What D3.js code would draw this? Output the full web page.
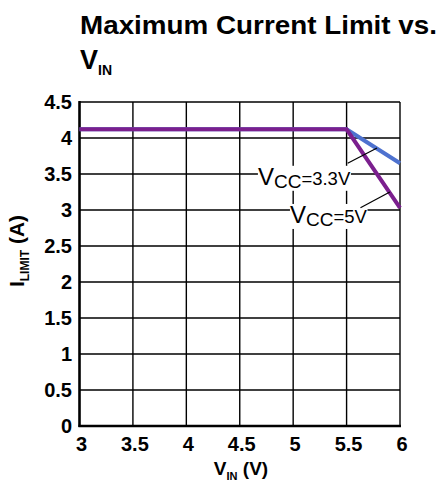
<!DOCTYPE html>
<html>
<head>
  <script src="https://d3js.org/d3.v7.min.js"></script>
  <style>
    body { margin: 0; background: #fff; }
    text { font-family: "Liberation Sans", Arial, sans-serif; }
    .grid line { stroke: #000; stroke-width: 1.4px; }
    .tick-label { font-size: 20px; font-weight: bold; }
  </style>
</head>
<body>
  <svg id="chart" width="441" height="483"></svg>
  <script>
    // data
    const vin = [3, 5.5, 6];
    const ilimVcc33 = [4.12, 4.12, 3.65];
    const ilimVcc5 = [4.12, 4.12, 3.03];
    const xTicks = [3, 3.5, 4, 4.5, 5, 5.5, 6];
    const yTicks = [0, 0.5, 1, 1.5, 2, 2.5, 3, 3.5, 4, 4.5];

    const svg = d3.select("svg#chart");
    const x = d3.scaleLinear().domain([3, 6]).range([79.5, 400]);
    const y = d3.scaleLinear().domain([0, 4.5]).range([426, 102]);
    const fmt = d => d3.format("~f")(d);

    // title
    svg.append("text")
      .attr("x", 80).attr("y", 34)
      .attr("textLength", 357).attr("lengthAdjust", "spacingAndGlyphs")
      .style("font-size", "26px").style("font-weight", "bold")
      .text("Maximum Current Limit vs.");
    const t2 = svg.append("text")
      .attr("x", 80).attr("y", 69)
      .style("font-size", "27px").style("font-weight", "bold");
    t2.append("tspan").text("V");
    t2.append("tspan").attr("dy", 6).style("font-size", "14px").text("IN");

    // gridlines
    const grid = svg.append("g").attr("class", "grid");
    grid.selectAll("line.v").data(xTicks).join("line").attr("class", "v")
      .attr("x1", d => x(d)).attr("x2", d => x(d))
      .attr("y1", y(0)).attr("y2", y(4.5));
    grid.selectAll("line.h").data(yTicks).join("line").attr("class", "h")
      .attr("x1", x(3)).attr("x2", x(6))
      .attr("y1", d => y(d)).attr("y2", d => y(d));

    // main axes (thicker)
    svg.append("line").attr("x1", x(3)).attr("x2", x(3)).attr("y1", y(0) + 1).attr("y2", y(4.5) - 1)
      .style("stroke", "#000").style("stroke-width", 2.5);
    svg.append("line").attr("x1", x(3) - 1).attr("x2", x(6) + 1).attr("y1", y(0)).attr("y2", y(0))
      .style("stroke", "#000").style("stroke-width", 2.5);

    // tick labels
    svg.selectAll("text.ylab").data(yTicks).join("text")
      .attr("class", "ylab tick-label")
      .attr("x", 72).attr("y", d => y(d) + 7)
      .attr("text-anchor", "end")
      .text(fmt);
    svg.selectAll("text.xlab").data(xTicks).join("text")
      .attr("class", "xlab tick-label")
      .attr("x", d => x(d) + 2).attr("y", 451)
      .attr("text-anchor", "middle")
      .text(fmt);

    // axis titles
    const xt = svg.append("text")
      .attr("x", 241).attr("y", 475)
      .attr("text-anchor", "middle")
      .style("font-size", "19px").style("font-weight", "bold");
    xt.append("tspan").text("V");
    xt.append("tspan").attr("dy", 5).style("font-size", "11px").text("IN");
    xt.append("tspan").attr("dy", -5).text(" (V)");

    const yt = svg.append("text")
      .attr("transform", "translate(24,251) rotate(-90)")
      .attr("text-anchor", "middle")
      .style("font-size", "21px").style("font-weight", "bold");
    yt.append("tspan").text("I");
    yt.append("tspan").attr("dy", 5).style("font-size", "12px").text("LIMIT");
    yt.append("tspan").attr("dy", -5).text(" (A)");

    // curves
    const line = d3.line().x(d => x(d[0])).y(d => y(d[1]));
    svg.append("path").datum(d3.zip(vin, ilimVcc33))
      .attr("d", line)
      .style("fill", "none").style("stroke", "#4e72cf").style("stroke-width", 4);
    svg.append("path").datum(d3.zip(vin, ilimVcc5))
      .attr("d", line)
      .style("fill", "none").style("stroke", "#7b1f8e").style("stroke-width", 4);

    // annotations: label anchor and leader line in data units
    const labels = [
      { sub: "CC", rest: "=3.3V", at: [4.67, 3.35], lead: [[5.51, 3.65], [5.785, 3.86]] },
      { sub: "CC", rest: "=5V", at: [4.97, 2.82], lead: [[5.63, 3.03], [5.905, 3.25]] }
    ];
    labels.forEach(l => {
      const g = svg.append("g");
      const bg = g.append("rect").style("fill", "#fff");
      const t = g.append("text")
        .attr("x", x(l.at[0])).attr("y", y(l.at[1]))
        .style("font-size", "18.5px");
      t.append("tspan").style("font-size", "24px").text("V");
      t.append("tspan").attr("dy", 3).style("font-size", "19px").text(l.sub);
      t.append("tspan").attr("dy", -3).text(l.rest);
      const b = t.node().getBBox();
      bg.attr("x", b.x).attr("y", b.y + 3).attr("width", b.width).attr("height", b.height - 4);
      svg.append("line")
        .attr("x1", x(l.lead[0][0])).attr("y1", y(l.lead[0][1]))
        .attr("x2", x(l.lead[1][0])).attr("y2", y(l.lead[1][1]))
        .style("stroke", "#000").style("stroke-width", 1.2);
    });
  </script>
</body>
</html>
